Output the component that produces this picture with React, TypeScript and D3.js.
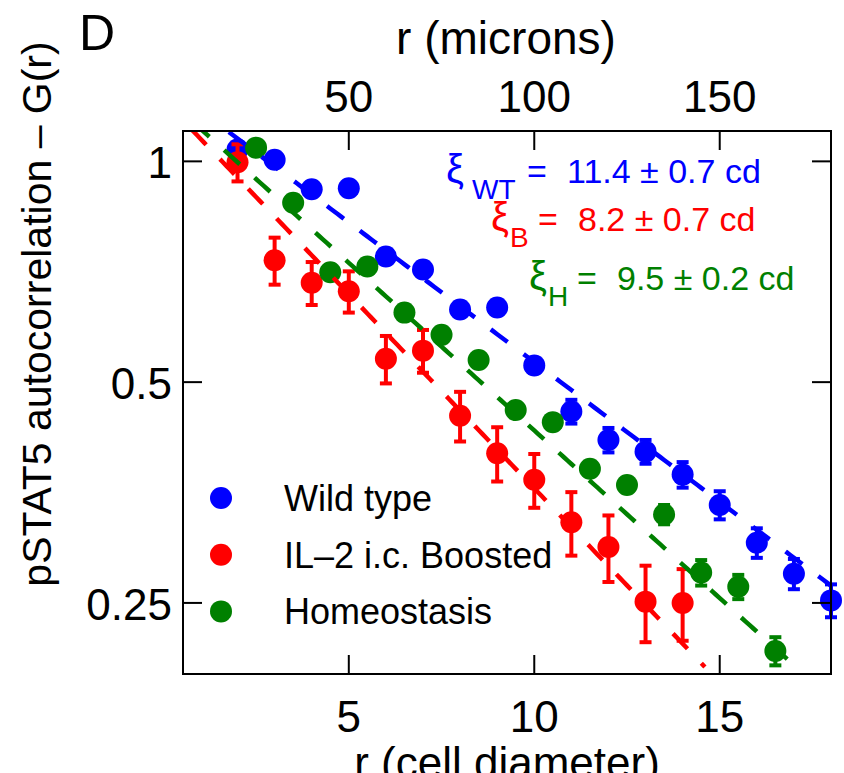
import React from 'react';
import * as d3 from 'd3';

// cell diameters of the wild type / boosted points, homeostasis sits on the half steps
const rWT = [2, 3, 4, 5, 6, 7, 8, 9, 10, 11, 12, 13, 14, 15, 16, 17, 18];
const gWT = [1.038, 1.005, 0.916, 0.919, 0.742, 0.712, 0.628, 0.632, 0.527, 0.456, 0.417, 0.402, 0.374, 0.34, 0.302, 0.274, 0.252];
const eWT = [0.01, 0.01, 0.01, 0.01, 0.01, 0.01, 0.01, 0.01, 0.012, 0.017, 0.016, 0.015, 0.015, 0.015, 0.014, 0.013, 0.013];

const rB = [2, 3, 4, 5, 6, 7, 8, 9, 10, 11, 12, 13, 14];
const gB = [0.997, 0.733, 0.683, 0.665, 0.538, 0.552, 0.45, 0.4, 0.368, 0.322, 0.298, 0.251, 0.25];
const eB = [0.058, 0.054, 0.046, 0.043, 0.04, 0.037, 0.035, 0.034, 0.031, 0.032, 0.031, 0.03, 0.028];

const rH = [2.5, 3.5, 4.5, 5.5, 6.5, 7.5, 8.5, 9.5, 10.5, 11.5, 12.5, 13.5, 14.5, 15.5, 16.5];
const gH = [1.044, 0.878, 0.706, 0.719, 0.622, 0.58, 0.536, 0.458, 0.441, 0.381, 0.362, 0.33, 0.275, 0.263, 0.215];
const eH = [0.005, 0.005, 0.005, 0.005, 0.005, 0.005, 0.005, 0.006, 0.006, 0.007, 0.008, 0.01, 0.011, 0.01, 0.0095];

// exponential fits A*exp(-r/xi), drawn out to rEnd
const fits = [
  { name: 'WT', A: 1.28, xi: 11.4, err: 0.7, rEnd: 18, color: '#0000ff' },
  { name: 'B', A: 1.213, xi: 8.2, err: 0.7, rEnd: 14.6, color: '#ff0000' },
  { name: 'H', A: 1.231, xi: 9.5, err: 0.2, rEnd: 16.9, color: '#008000' },
];

const legendLabels = ['Wild type', 'IL\u20132 i.c. Boosted', 'Homeostasis'];
const xTicks = [5, 10, 15];
const micronTicks = [50, 100, 150];
const yTicks = [1, 0.5, 0.25];

const W = 844, H = 773;
const left = 183, right = 831, top = 131, bottom = 674;
const font = 'Liberation Sans, Arial, Helvetica, sans-serif';

export default function App() {
  const x = d3.scaleLinear().domain([0.53, 18]).range([left, right]);
  const xm = d3.scaleLinear().domain([5.3, 180]).range([left, right]);
  const y = d3.scaleLog().domain([0.2, 1.1]).range([bottom, top]);

  const series = [
    { r: rWT, g: gWT, e: eWT, color: '#0000ff' },
    { r: rB, g: gB, e: eB, color: '#ff0000' },
    { r: rH, g: gH, e: eH, color: '#008000' },
  ];

  const line = d3.line<number>().x(d => x(d[0])).y(d => y(d[1]));
  const tick = 19;

  // where each xi label sits
  const annot = [
    { xi: 446, sub: 472, eq: 527, base: 183 },
    { xi: 491, sub: 510, eq: 538, base: 231 },
    { xi: 529, sub: 548, eq: 577, base: 290 },
  ];

  return (
    <svg width={W} height={H} style={{ position: 'absolute', left: 0, top: 0, background: '#fff' }} fontFamily={font}>
      <defs>
        <clipPath id="plot"><rect x={left} y={top} width={right - left} height={bottom - top} /></clipPath>
      </defs>
      <rect width={W} height={H} fill="#fff" />

      {series.map((s, i) => (
        <g key={i} fill={s.color} stroke={s.color}>
          {s.r.map((r, j) => (
            <g key={j}>
              <circle cx={x(r)} cy={y(s.g[j])} r={11} stroke="none" />
              <line x1={x(r)} x2={x(r)} y1={y(s.g[j] - s.e[j])} y2={y(s.g[j] + s.e[j])} strokeWidth={4} />
              <line x1={x(r) - 6} x2={x(r) + 6} y1={y(s.g[j] - s.e[j])} y2={y(s.g[j] - s.e[j])} strokeWidth={4} />
              <line x1={x(r) - 6} x2={x(r) + 6} y1={y(s.g[j] + s.e[j])} y2={y(s.g[j] + s.e[j])} strokeWidth={4} />
            </g>
          ))}
        </g>
      ))}

      <g clipPath="url(#plot)">
        {fits.map(f => {
          const pts = d3.range(0, f.rEnd + 0.001, 0.1).map(r => [r, f.A * Math.exp(-r / f.xi)]);
          return <path key={f.name} d={line(pts as any) || ''} fill="none" stroke={f.color} strokeWidth={4.5} strokeDasharray="21,20" />;
        })}
      </g>

      {/* frame and inward ticks */}
      <rect x={left} y={top} width={right - left} height={bottom - top} fill="none" stroke="#000" strokeWidth={2} />
      {xTicks.map(t => (
        <g key={t}>
          <line x1={x(t)} x2={x(t)} y1={bottom} y2={bottom - tick} stroke="#000" strokeWidth={2} />
          <text x={x(t)} y={732} fontSize={44} textAnchor="middle">{t}</text>
        </g>
      ))}
      {micronTicks.map(t => (
        <g key={t}>
          <line x1={xm(t)} x2={xm(t)} y1={top} y2={top + tick} stroke="#000" strokeWidth={2} />
          <text x={xm(t)} y={112} fontSize={44} textAnchor="middle">{t}</text>
        </g>
      ))}
      {yTicks.map(t => (
        <g key={t}>
          <line x1={left} x2={left + tick} y1={y(t)} y2={y(t)} stroke="#000" strokeWidth={2} />
          <line x1={right} x2={right - tick} y1={y(t)} y2={y(t)} stroke="#000" strokeWidth={2} />
          <text x={172} y={y(t) + 17} fontSize={44} textAnchor="end">{t}</text>
        </g>
      ))}

      <text x={506} y={54} fontSize={46} textAnchor="middle">r (microns)</text>
      <text x={507} y={778} fontSize={44} textAnchor="middle">r (cell diameter)</text>
      <text x={79} y={50} fontSize={50}>D</text>
      <text transform="translate(51,314) rotate(-90)" fontSize={41} textAnchor="middle">pSTAT5 autocorrelation – G(r)</text>

      {fits.map((f, i) => (
        <g key={f.name} fill={f.color}>
          <text x={annot[i].xi} y={annot[i].base} fontSize={40}>ξ</text>
          <text x={annot[i].sub} y={annot[i].base + 16} fontSize={28}>{f.name}</text>
          <text x={annot[i].eq} y={annot[i].base} fontSize={34}>=</text>
          <text x={annot[i].eq + 40} y={annot[i].base} fontSize={34}>{`${f.xi.toFixed(1)} ± ${f.err.toFixed(1)} cd`}</text>
        </g>
      ))}

      {legendLabels.map((l, i) => (
        <g key={l}>
          <circle cx={221} cy={498 + i * 56.7} r={11} fill={series[i].color} />
          <text x={284} y={511 + i * 56.7} fontSize={36}>{l}</text>
        </g>
      ))}
    </svg>
  );
}
